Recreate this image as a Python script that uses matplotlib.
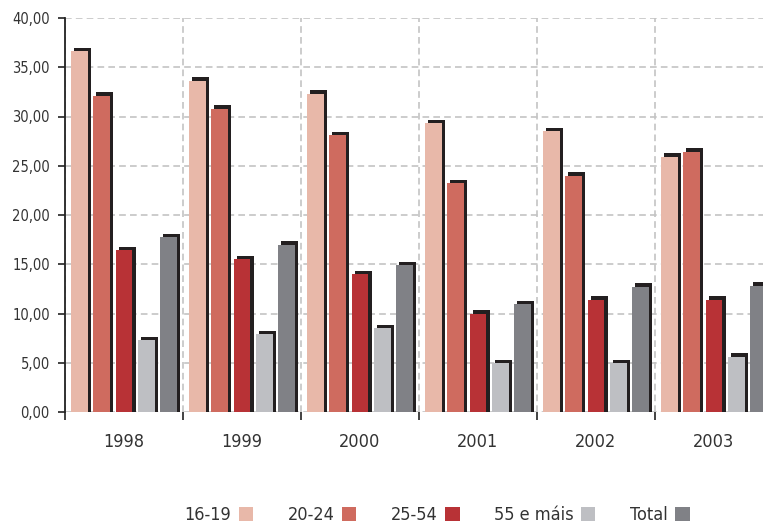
import matplotlib
matplotlib.use("Agg")
import matplotlib.pyplot as plt
import numpy as np
from matplotlib.patches import Patch
from matplotlib.ticker import FuncFormatter, FixedLocator

years = ["1998", "1999", "2000", "2001", "2002", "2003"]
series_names = ["16-19", "20-24", "25-54", "55 e máis", "Total"]
v_16_19 = [36.6, 33.6, 32.3, 29.3, 28.5, 25.9]
v_20_24 = [32.1, 30.8, 28.1, 23.2, 24.0, 26.4]
v_25_54 = [16.4, 15.5, 14.0, 10.0, 11.4, 11.4]
v_55 = [7.3, 7.9, 8.5, 4.95, 4.95, 5.6]
v_total = [17.75, 17.0, 14.9, 10.95, 12.7, 12.8]
series = [v_16_19, v_20_24, v_25_54, v_55, v_total]
colors = ["#E8B8A9", "#CF6B5F", "#B83236", "#BEBFC3", "#808186"]
shadow_color = "#231F20"

font = ["Liberation Sans Narrow", "DejaVu Sans"]
plt.rcParams["font.family"] = font
plt.rcParams["font.stretch"] = "condensed"
txt_color = "#333333"

fig = plt.figure(figsize=(7.63, 5.26), dpi=100)
ax = fig.add_axes([65 / 763, 114 / 526, 708 / 763, 394 / 526])

n = len(years)
x = np.arange(n) + 0.5
slot = 0.189
width = 0.144
dx = 0.026
dy = 0.36

for j, (vals, c) in enumerate(zip(series, colors)):
    pos = x + (j - 2) * slot
    vals = np.array(vals)
    ax.bar(pos + dx, vals + dy, width=width, color=shadow_color, zorder=2, linewidth=0)
    ax.bar(pos, vals, width=width, color=c, zorder=3, linewidth=0)

ax.set_xlim(0, n)
ax.set_ylim(0, 40)
ax.set_yticks(np.arange(0, 41, 5))
ax.yaxis.set_major_formatter(FuncFormatter(lambda v, p: f"{v:.2f}".replace(".", ",")))
ax.xaxis.set_major_locator(FixedLocator(np.arange(0, n + 1)))
ax.xaxis.set_minor_locator(FixedLocator(x))
ax.xaxis.set_major_formatter(FuncFormatter(lambda v, p: ""))
ax.set_xticklabels(years, minor=True)
ax.tick_params(axis="x", which="minor", length=0, pad=15, labelsize=13, labelcolor=txt_color)
ax.tick_params(axis="x", which="major", length=6, width=1.2, color="#222222", direction="out")
ax.tick_params(axis="y", length=5, width=1.2, color="#222222", labelsize=10.5,
               labelcolor=txt_color, pad=6)

ax.grid(True, which="major", color="#c4c4c4", linestyle=(0, (4, 2.5)), linewidth=1.2, zorder=0)
ax.set_axisbelow(True)
for s in ["top", "right", "bottom"]:
    ax.spines[s].set_visible(False)
ax.spines["left"].set_color("#222222")
ax.spines["left"].set_linewidth(1.3)

handles = [Patch(facecolor=c, edgecolor="none") for c in colors]
leg = fig.legend(handles, series_names, loc="center", bbox_to_anchor=(437 / 763, 11 / 526),
                 ncol=5, frameon=False, markerfirst=False, handlelength=0.78,
                 handleheight=0.78, handletextpad=0.44, columnspacing=1.9,
                 prop={"family": font, "size": 13})
for t in leg.get_texts():
    t.set_color(txt_color)

fig.savefig("out.png", dpi=100)
